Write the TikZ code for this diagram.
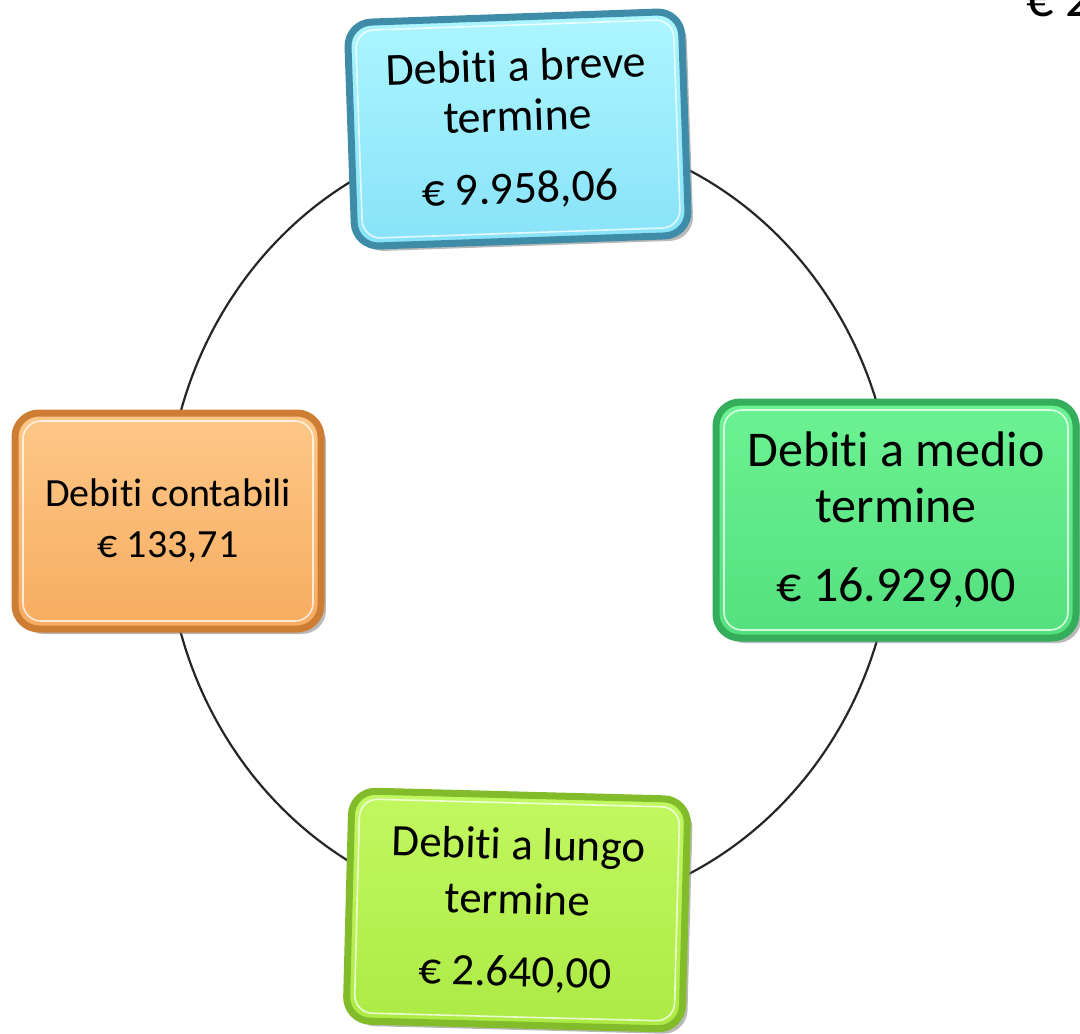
\documentclass[tikz,border=0pt]{standalone}
\usepackage{fontspec}
\setmainfont[Ligatures=NoCommon,Contextuals=NoAlternate]{Carlito}
\usetikzlibrary{shadows}
\definecolor{cyanrim}{RGB}{62,140,168}
\definecolor{cyantop}{RGB}{172,246,255}
\definecolor{cyanbot}{RGB}{136,226,248}
\definecolor{orarim}{RGB}{206,126,52}
\definecolor{oratop}{RGB}{253,200,136}
\definecolor{orabot}{RGB}{247,172,96}
\definecolor{grnrim}{RGB}{52,174,90}
\definecolor{grntop}{RGB}{108,242,146}
\definecolor{grnbot}{RGB}{84,224,126}
\definecolor{limrim}{RGB}{130,188,42}
\definecolor{limtop}{RGB}{194,248,96}
\definecolor{limbot}{RGB}{172,234,68}
\tikzset{
  box/.style={rounded corners=24pt, line width=7pt, align=center, inner sep=0pt,
    text=black, drop shadow={shadow xshift=5pt, shadow yshift=-5pt, opacity=0.55}},
  colbox/.style n args={3}{draw=#1, top color=#2, bottom color=#3},
  hilite/.style={draw=white, line width=1.6pt, rounded corners=18pt, opacity=0.75, inner sep=0pt},
  ring/.style={line width=2.2pt, black!85}
}
\begin{document}
\begin{tikzpicture}[x=1pt,y=-1pt]
\useasboundingbox (0,0) rectangle (1080,1034);
\coordinate (c) at (530,522);
\draw[ring] (c) ellipse [x radius=364pt, y radius=391pt];

% top box
\node[box, colbox={cyanrim}{cyantop}{cyanbot}, rotate=2,
  minimum width=334pt, minimum height=224pt,
  font=\fontsize{46}{50}\selectfont] (breve) at (518,129)
  {Debiti a breve\\termine\\[22pt]€ 9.958,06};
\node[hilite, rotate=2, minimum width=318pt, minimum height=208pt] (breveh) at (breve.center) {};

% left box
\node[box, colbox={orarim}{oratop}{orabot},
  minimum width=306pt, minimum height=216pt,
  font=\fontsize{40}{51}\selectfont] (contab) at (168,521)
  {Debiti contabili\\€ 133,71};
\node[hilite, minimum width=290pt, minimum height=200pt] (contabh) at (contab.center) {};

% right box
\node[box, colbox={grnrim}{grntop}{grnbot},
  minimum width=360pt, minimum height=236pt,
  font=\fontsize{50}{56}\selectfont] (medio) at (896,520)
  {Debiti a medio\\termine\\[23pt]€ 16.929,00};
\node[hilite, minimum width=344pt, minimum height=220pt] (medioh) at (medio.center) {};

% bottom box
\node[box, colbox={limrim}{limtop}{limbot}, rotate=-1.5,
  minimum width=336pt, minimum height=230pt,
  font=\fontsize{45}{55}\selectfont] (lungo) at (517,910)
  {Debiti a lungo\\termine\\[17pt]€ 2.640,00};
\node[hilite, rotate=-1.5, minimum width=320pt, minimum height=214pt] (lungoh) at (lungo.center) {};

% clipped total at the top right, as in the reference
\node[anchor=base west, inner sep=0pt, font=\fontsize{54}{60}\selectfont] (tot) at (1026,16) {€ 2};
\end{tikzpicture}
\end{document}
